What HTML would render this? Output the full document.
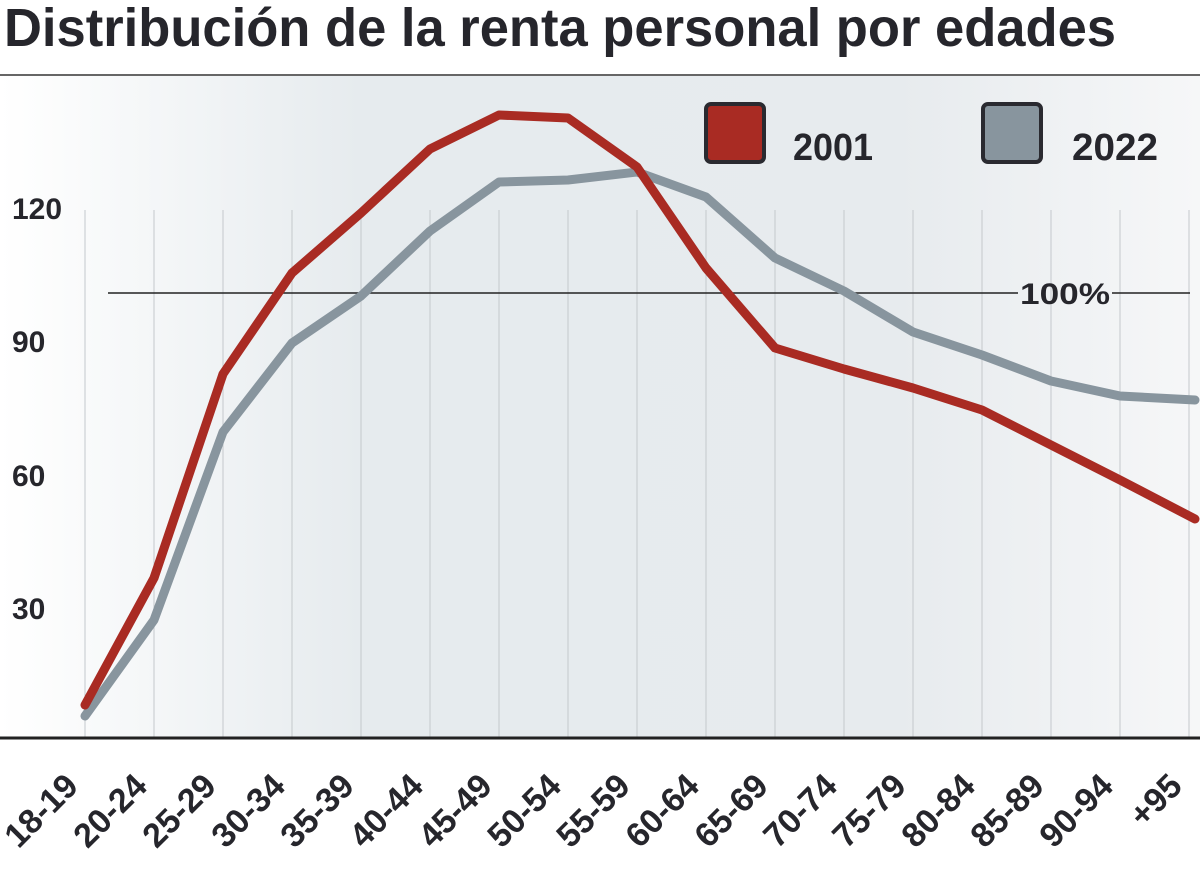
<!DOCTYPE html>
<html><head><meta charset="utf-8"><style>
html,body{margin:0;padding:0;background:#fff}
svg{display:block}
text{font-family:"Liberation Sans",sans-serif;font-weight:bold;fill:#26262c}
</style></head><body>
<svg width="1200" height="883" viewBox="0 0 1200 883" xmlns="http://www.w3.org/2000/svg">
<defs>
<linearGradient id="bg" x1="0" y1="0" x2="1" y2="0">
<stop offset="0" stop-color="#ffffff"/>
<stop offset="0.3" stop-color="#e6ebee"/>
<stop offset="0.75" stop-color="#e7ebee"/>
<stop offset="1" stop-color="#f6f7f8"/>
</linearGradient>
</defs>
<text x="4" y="46" font-size="54" textLength="1112" lengthAdjust="spacingAndGlyphs">Distribución de la renta personal por edades</text>
<rect x="0" y="76" width="1200" height="662" fill="url(#bg)"/>
<line x1="0" y1="75" x2="1200" y2="75" stroke="#333" stroke-width="1.5"/>
<g stroke="#c4c8cc" stroke-width="1">
<line x1="85" y1="210" x2="85" y2="738"/><line x1="154" y1="210" x2="154" y2="738"/><line x1="223" y1="210" x2="223" y2="738"/><line x1="292" y1="210" x2="292" y2="738"/><line x1="361" y1="210" x2="361" y2="738"/><line x1="430" y1="210" x2="430" y2="738"/><line x1="499" y1="210" x2="499" y2="738"/><line x1="568" y1="210" x2="568" y2="738"/><line x1="637" y1="210" x2="637" y2="738"/><line x1="706" y1="210" x2="706" y2="738"/><line x1="775" y1="210" x2="775" y2="738"/><line x1="844" y1="210" x2="844" y2="738"/><line x1="913" y1="210" x2="913" y2="738"/><line x1="982" y1="210" x2="982" y2="738"/><line x1="1051" y1="210" x2="1051" y2="738"/><line x1="1120" y1="210" x2="1120" y2="738"/><line x1="1189" y1="210" x2="1189" y2="738"/>
</g>
<line x1="108" y1="293" x2="1018" y2="293" stroke="#222" stroke-width="1.5"/>
<line x1="1112" y1="293" x2="1190" y2="293" stroke="#222" stroke-width="1.5"/>
<text x="1020" y="304" font-size="30" textLength="90" lengthAdjust="spacingAndGlyphs">100%</text>
<text x="12" y="219" font-size="30">120</text>
<text x="12" y="352" font-size="30">90</text>
<text x="12" y="486" font-size="30">60</text>
<text x="12" y="619" font-size="30">30</text>
<polyline fill="none" stroke="#88959e" stroke-width="9" stroke-linejoin="round" stroke-linecap="round" points="85,716 154,620 223,432 292,343 361,296 430,231 499,182 568,180 637,172 706,197 775,258 844,291 913,332 982,355 1051,381 1120,396 1195,400"/>
<polyline fill="none" stroke="#a92b23" stroke-width="9" stroke-linejoin="round" stroke-linecap="round" points="85,705 154,578 223,374 292,273 361,213 430,149 499,115 568,118 637,167 706,268 775,348 844,369 913,388 982,410 1051,445 1120,480 1195,519"/>
<line x1="0" y1="738" x2="1200" y2="738" stroke="#222" stroke-width="3"/>
<rect x="706" y="104" width="58" height="58" rx="5" fill="#a92b23" stroke="#2a2a30" stroke-width="4"/>
<rect x="983" y="104" width="58" height="58" rx="5" fill="#88959e" stroke="#2a2a30" stroke-width="4"/>
<text x="793" y="160" font-size="38" textLength="80" lengthAdjust="spacingAndGlyphs">2001</text>
<text x="1072" y="160" font-size="38" textLength="86" lengthAdjust="spacingAndGlyphs">2022</text>
<g font-size="34" text-anchor="end">
<text transform="translate(80,788) rotate(-45)">18-19</text>
<text transform="translate(149,788) rotate(-45)">20-24</text>
<text transform="translate(218,788) rotate(-45)">25-29</text>
<text transform="translate(287,788) rotate(-45)">30-34</text>
<text transform="translate(356,788) rotate(-45)">35-39</text>
<text transform="translate(425,788) rotate(-45)">40-44</text>
<text transform="translate(494,788) rotate(-45)">45-49</text>
<text transform="translate(563,788) rotate(-45)">50-54</text>
<text transform="translate(632,788) rotate(-45)">55-59</text>
<text transform="translate(701,788) rotate(-45)">60-64</text>
<text transform="translate(770,788) rotate(-45)">65-69</text>
<text transform="translate(839,788) rotate(-45)">70-74</text>
<text transform="translate(908,788) rotate(-45)">75-79</text>
<text transform="translate(977,788) rotate(-45)">80-84</text>
<text transform="translate(1046,788) rotate(-45)">85-89</text>
<text transform="translate(1115,788) rotate(-45)">90-94</text>
<text transform="translate(1184,788) rotate(-45)">+95</text>
</g>
</svg>
</body></html>
